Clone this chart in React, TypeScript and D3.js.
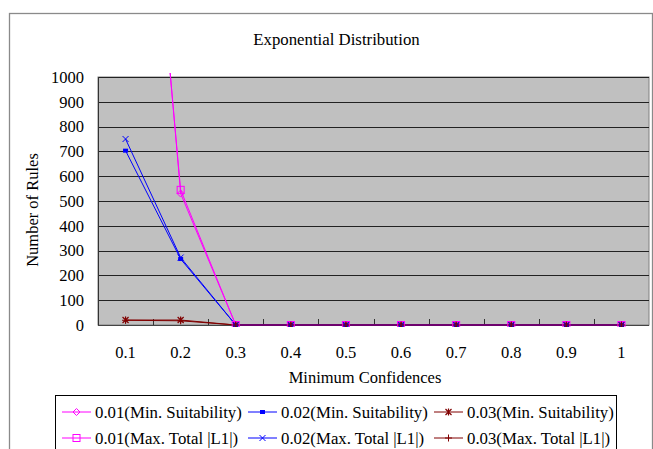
import React from "react";
import * as d3 from "d3";

const categories = ["0.1", "0.2", "0.3", "0.4", "0.5", "0.6", "0.7", "0.8", "0.9", "1"];
const yTicks = [0, 100, 200, 300, 400, 500, 600, 700, 800, 900, 1000];

const min001 = [3100, 530, 0, 0, 0, 0, 0, 0, 0, 0];
const min002 = [703, 266, 0, 0, 0, 0, 0, 0, 0, 0];
const min003 = [20, 20, 0, 0, 0, 0, 0, 0, 0, 0];
const max001 = [3000, 545, 0, 0, 0, 0, 0, 0, 0, 0];
const max002 = [750, 272, 0, 0, 0, 0, 0, 0, 0, 0];
const max003 = [19, 17, 0, 0, 0, 0, 0, 0, 0, 0];

const seriesNames = [
  "0.01(Min. Suitability)",
  "0.02(Min. Suitability)",
  "0.03(Min. Suitability)",
  "0.01(Max. Total |L1|)",
  "0.02(Max. Total |L1|)",
  "0.03(Max. Total |L1|)",
];

const MAGENTA = "#FF00FF";
const BLUE = "#0000FF";
const DARKRED = "#800000";

type Marker = "diamond" | "square" | "fsquare" | "x" | "star" | "plus";

const series: { name: string; values: number[]; color: string; marker: Marker }[] = [
  { name: seriesNames[0], values: min001, color: MAGENTA, marker: "diamond" },
  { name: seriesNames[1], values: min002, color: BLUE, marker: "fsquare" },
  { name: seriesNames[2], values: min003, color: DARKRED, marker: "star" },
  { name: seriesNames[3], values: max001, color: MAGENTA, marker: "square" },
  { name: seriesNames[4], values: max002, color: BLUE, marker: "x" },
  { name: seriesNames[5], values: max003, color: DARKRED, marker: "plus" },
];

const FONT = "'Liberation Serif', 'DejaVu Serif', serif";
const txt = (size: number): React.CSSProperties => ({ fontFamily: FONT, fontSize: size + "px" });

function MarkerShape({ type, x, y, color }: { type: Marker; x: number; y: number; color: string }) {
  switch (type) {
    case "diamond":
      return <path d={`M${x},${y - 3.5}L${x + 3.5},${y}L${x},${y + 3.5}L${x - 3.5},${y}Z`} fill="none" stroke={color} strokeWidth={1} />;
    case "square":
      return <rect x={x - 3.5} y={y - 3.5} width={7} height={7} fill="none" stroke={color} strokeWidth={1} />;
    case "fsquare":
      return <rect x={x - 2.5} y={y - 2} width={5} height={4} fill={color} />;
    case "x":
      return <path d={`M${x - 3},${y - 3}L${x + 3},${y + 3}M${x - 3},${y + 3}L${x + 3},${y - 3}`} stroke={color} strokeWidth={1} />;
    case "star":
      return (
        <path
          d={`M${x - 3},${y - 3}L${x + 3},${y + 3}M${x - 3},${y + 3}L${x + 3},${y - 3}M${x},${y - 3.5}L${x},${y + 3.5}`}
          stroke={color}
          strokeWidth={1.2}
        />
      );
    case "plus":
      return <path d={`M${x - 3.5},${y}L${x + 3.5},${y}M${x},${y - 3.5}L${x},${y + 3.5}`} stroke={color} strokeWidth={1} />;
  }
}

export default function App() {
  const W = 653;
  const H = 449;
  const left = 98;
  const right = 649;
  const top = 77;
  const bottom = 325;

  const x = d3.scaleBand<string>().domain(categories).range([left, right]).padding(0);
  const y = d3.scaleLinear().domain([0, 1000]).range([bottom, top]);
  const cx = (c: string) => (x(c) as number) + x.bandwidth() / 2;

  const line = d3
    .line<number>()
    .x((_, i) => cx(categories[i]))
    .y((v) => y(v));

  const boundaries = d3.range(1, categories.length).map((i) => left + i * x.bandwidth());

  const legendCols = [62, 248, 434];
  const legendRows = [412, 438];

  return (
    <div style={{ position: "fixed", left: 0, top: 0 }}>
      <svg width={W} height={H} style={{ display: "block", background: "#fff" }}>
        <defs>
          <clipPath id="plotclip">
            <rect x={left} y={top - 4} width={right - left} height={bottom - top + 6} />
          </clipPath>
        </defs>
        {/* outer chart border */}
        <rect x={9.5} y={13.5} width={643} height={460} fill="#fff" stroke="#8a8a8a" strokeWidth={1.3} />

        {/* title */}
        <text x={336.5} y={45} textAnchor="middle" style={txt(16.8)} fill="#000">
          Exponential Distribution
        </text>

        {/* plot area */}
        <rect x={left} y={top} width={right - left} height={bottom - top} fill="#C0C0C0" stroke="#808080" strokeWidth={1} />

        {/* gridlines */}
        {yTicks.slice(1).map((t) => (
          <line key={t} x1={left} x2={right} y1={Math.round(y(t)) + 0.5} y2={Math.round(y(t)) + 0.5} stroke="#222" strokeWidth={1.2} />
        ))}

        {/* axes */}
        <line x1={left + 0.5} x2={left + 0.5} y1={top} y2={bottom} stroke="#333" strokeWidth={1} />
        <line x1={left} x2={right} y1={bottom + 0.5} y2={bottom + 0.5} stroke="#444" strokeWidth={1} />
        {boundaries.map((b, i) => (
          <line key={i} x1={Math.round(b) + 0.5} x2={Math.round(b) + 0.5} y1={bottom} y2={bottom - 6} stroke="#333" strokeWidth={1} />
        ))}

        {/* y tick labels */}
        {yTicks.map((t) => (
          <text key={t} x={84} y={y(t)} dy="0.35em" textAnchor="end" style={txt(16.5)} fill="#000">
            {t}
          </text>
        ))}

        {/* x tick labels */}
        {categories.map((c) => (
          <text key={c} x={cx(c)} y={352} dy="0.35em" textAnchor="middle" style={txt(16.5)} fill="#000">
            {c}
          </text>
        ))}

        {/* axis titles */}
        <text x={365} y={377} dy="0.35em" textAnchor="middle" style={txt(16.5)} fill="#000">
          Minimum Confidences
        </text>
        <text transform={`translate(32,210) rotate(-90)`} dy="0.35em" textAnchor="middle" style={txt(16.5)} fill="#000">
          Number of Rules
        </text>

        {/* series */}
        <g clipPath="url(#plotclip)">
          {series.map((s) => (
            <path key={s.name} d={line(s.values) as string} fill="none" stroke={s.color} strokeWidth={1} />
          ))}
          {series.map((s) =>
            s.values.map((v, i) =>
              v <= 1000 ? <MarkerShape key={s.name + i} type={s.marker} x={cx(categories[i])} y={y(v)} color={s.color} /> : null
            )
          )}
        </g>

        {/* legend */}
        <rect x={55.5} y={395.5} width={561} height={70} fill="#fff" stroke="#000" strokeWidth={1} />
        {series.map((s, i) => {
          const col = i % 3;
          const row = Math.floor(i / 3);
          const lx = legendCols[col];
          const ly = legendRows[row];
          return (
            <g key={s.name}>
              <line x1={lx} x2={lx + 29} y1={ly} y2={ly} stroke={s.color} strokeWidth={1} />
              <MarkerShape type={s.marker} x={lx + 14.5} y={ly} color={s.color} />
              <text x={lx + 33} y={ly} dy="0.35em" style={txt(16.8)} fill="#000">
                {s.name}
              </text>
            </g>
          );
        })}
      </svg>
    </div>
  );
}
